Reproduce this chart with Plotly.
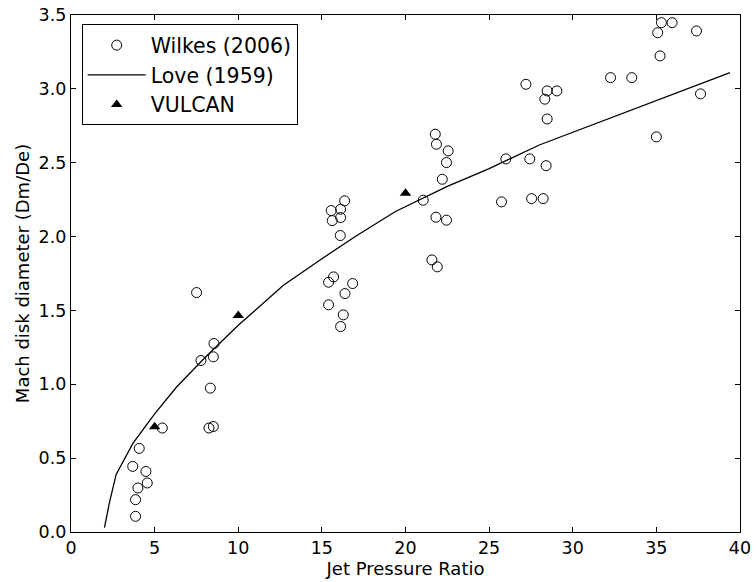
import plotly.graph_objects as go

# Wilkes (2006) data
wilkes_x = [3.86, 3.86, 4.0, 4.56, 4.48, 3.69, 4.08, 5.46,
            7.51, 7.77, 8.55, 8.51, 8.33, 8.25, 8.51,
            16.36, 15.56, 16.12, 15.62, 16.12, 16.1, 15.7, 15.4, 16.84, 16.38, 15.4, 16.28, 16.12,
            21.78, 21.85, 22.55, 22.45, 22.2, 21.06, 21.82, 22.45, 21.58, 21.9,
            25.74, 26.0, 27.43, 27.54, 28.23, 28.41, 27.2, 28.47, 29.05, 28.33, 28.47,
            32.26, 33.53, 35.0, 35.3, 35.94, 35.08, 35.22, 37.4, 37.64]
wilkes_y = [0.106, 0.219, 0.298, 0.332, 0.41, 0.444, 0.566, 0.704,
            1.621, 1.161, 1.276, 1.186, 0.974, 0.704, 0.714,
            2.242, 2.176, 2.185, 2.108, 2.129, 2.007, 1.727, 1.691, 1.682, 1.614, 1.538, 1.47, 1.391,
            2.693, 2.625, 2.58, 2.501, 2.388, 2.246, 2.131, 2.111, 1.842, 1.795,
            2.235, 2.526, 2.526, 2.257, 2.257, 2.48, 3.031, 2.986, 2.986, 2.93, 2.796,
            3.076, 3.076, 2.675, 3.448, 3.448, 3.38, 3.223, 3.392, 2.966]

# Love (1959) curve
love_x = [2.0, 2.3, 2.7, 3.7, 5.0, 6.3, 8.0, 10.0, 12.7, 15.0, 17.0, 19.4, 22.5, 25.0, 28.0, 32.2, 35.0, 39.4]
love_y = [0.03, 0.2, 0.39, 0.60, 0.80, 0.98, 1.18, 1.40, 1.67, 1.85, 2.0, 2.17, 2.34, 2.46, 2.62, 2.80, 2.92, 3.11]

# VULCAN
vulcan_x = [5, 10, 20]
vulcan_y = [0.713, 1.466, 2.294]

x_ticks = [0, 5, 10, 15, 20, 25, 30, 35, 40]
y_ticks = [0.0, 0.5, 1.0, 1.5, 2.0, 2.5, 3.0, 3.5]

FONT = "DejaVu Sans"

fig = go.Figure()
fig.add_trace(go.Scatter(
    x=wilkes_x, y=wilkes_y, mode="markers", name="Wilkes (2006)",
    marker=dict(symbol="circle-open", size=10, color="black", line=dict(width=1, color="black")),
))
fig.add_trace(go.Scatter(
    x=love_x, y=love_y, mode="lines", name="Love (1959)",
    line=dict(color="black", width=1.3),
))
fig.add_trace(go.Scatter(
    x=vulcan_x, y=vulcan_y, mode="markers", name="VULCAN",
    marker=dict(symbol="triangle-up", size=10, color="black"),
))

axis_common = dict(
    showline=True, linecolor="black", linewidth=1.2, mirror="allticks",
    ticks="inside", ticklen=5, tickcolor="black", tickwidth=1,
    showgrid=False, zeroline=False, automargin=False,
    tickfont=dict(family=FONT, size=17.5, color="black"),
)

fig.update_layout(
    width=756, height=582,
    margin=dict(l=71, r=16, t=15, b=50),
    paper_bgcolor="white", plot_bgcolor="white",
    font=dict(family=FONT, color="black"),
    xaxis=dict(range=[0, 40], tickvals=x_ticks, ticktext=[str(v) for v in x_ticks],
               title=dict(text="Jet Pressure Ratio", font=dict(family=FONT, size=18), standoff=2),
               **axis_common),
    yaxis=dict(range=[0, 3.5], tickvals=y_ticks, ticktext=[f"{v:.1f}" for v in y_ticks],
               title=dict(text="Mach disk diameter (Dm/De)", font=dict(family=FONT, size=18), standoff=4),
               **axis_common),
    legend=dict(x=0.016, y=0.982, xanchor="left", yanchor="top",
                bordercolor="black", borderwidth=1, bgcolor="white",
                font=dict(family=FONT, size=20.5), tracegroupgap=0, itemwidth=58),
    showlegend=True,
)

fig.write_html("out.html")
